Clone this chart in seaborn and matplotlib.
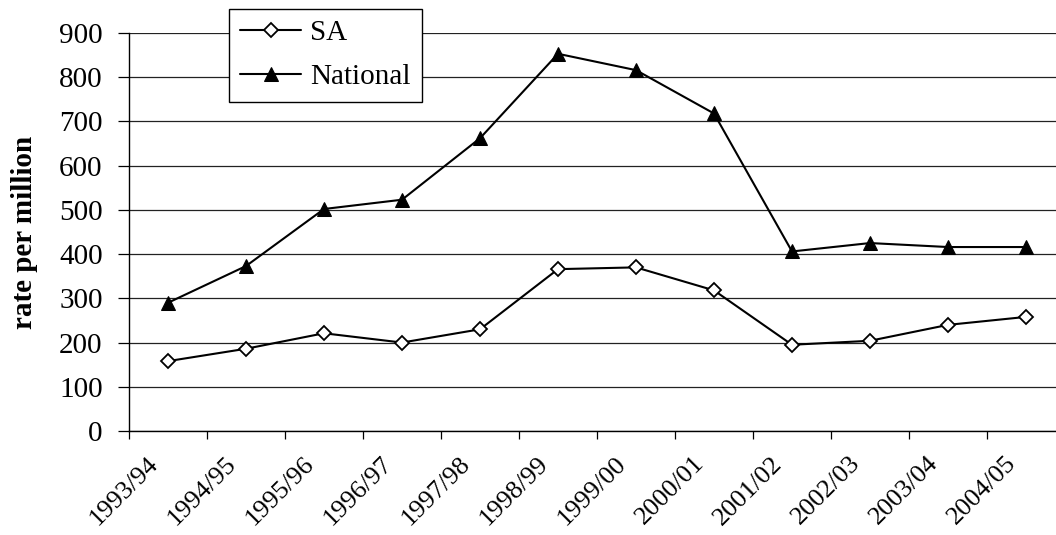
import matplotlib
matplotlib.use("Agg")
import matplotlib.pyplot as plt
import matplotlib.transforms as mtransforms
import seaborn as sns
import pandas as pd
import numpy as np

periods = ["1993/94", "1994/95", "1995/96", "1996/97", "1997/98", "1998/99",
           "1999/00", "2000/01", "2001/02", "2002/03", "2003/04", "2004/05"]
sa_values = [158, 186, 221, 200, 230, 366, 370, 318, 195, 204, 240, 258]
national_values = [290, 373, 502, 523, 662, 853, 816, 718, 406, 425, 416, 416]
y_ticks = [0, 100, 200, 300, 400, 500, 600, 700, 800, 900]
y_label = "rate per million"

sa_df = pd.DataFrame({"period": periods, "rate": sa_values, "series": "SA"})
nat_df = pd.DataFrame({"period": periods, "rate": national_values, "series": "National"})

sns.set_theme(style="white")
plt.rcParams["font.family"] = ["Liberation Serif", "DejaVu Serif"]

FS = 21

fig = plt.figure(figsize=(10.56, 5.35), dpi=100)
ax = fig.add_axes([129 / 1056, 1 - 431 / 535, 936 / 1056, 398 / 535])

sns.lineplot(data=sa_df, x="period", y="rate", ax=ax, color="black",
             marker="D", markersize=7.2, markerfacecolor="white",
             markeredgecolor="black", markeredgewidth=1.3, linewidth=1.5,
             label="SA", zorder=3)
sns.lineplot(data=nat_df, x="period", y="rate", ax=ax, color="black",
             marker="^", markersize=10.5, markerfacecolor="black",
             markeredgecolor="black", linewidth=1.5, label="National", zorder=3)

ax.set_xlim(-0.5, len(periods) - 0.5)
ax.set_ylim(0, 900)
ax.set_yticks(y_ticks)
ax.set_yticklabels([str(v) for v in y_ticks])
ax.set_axisbelow(True)
ax.grid(axis="y", color="#222222", linewidth=0.9)
ax.grid(axis="x", visible=False)

for s in ["top", "right"]:
    ax.spines[s].set_visible(False)
for s in ["left", "bottom"]:
    ax.spines[s].set_visible(True)
    ax.spines[s].set_color("black")
    ax.spines[s].set_linewidth(1.0)

ax.tick_params(axis="y", which="major", left=True, length=8, width=0.9,
               color="black", pad=11, labelsize=FS, labelcolor="black")
ax.set_xticks(range(len(periods)))
ax.set_xticklabels(periods)
ax.set_xticks(np.arange(-0.5, len(periods) - 0.4, 1.0), minor=True)
ax.tick_params(axis="x", which="major", bottom=False, length=0, pad=21,
               labelsize=19, labelcolor="black")
ax.tick_params(axis="x", which="minor", bottom=True, length=5.5, width=0.9,
               color="black", direction="out")

offset = mtransforms.ScaledTranslation(-13 / 100, 0, fig.dpi_scale_trans)
for lbl in ax.get_xticklabels():
    lbl.set_rotation(45)
    lbl.set_ha("right")
    lbl.set_va("center")
    lbl.set_rotation_mode("anchor")
    lbl.set_transform(lbl.get_transform() + offset)

ax.set_xlabel("")
ax.set_ylabel(y_label, fontsize=FS, fontweight="bold", color="black")
ax.yaxis.set_label_coords(-0.097, 0.5)

leg = ax.legend(loc="upper left", bbox_to_anchor=(229 / 1056, 1 - 9 / 535),
                bbox_transform=fig.transFigure, borderaxespad=0,
                frameon=True, fancybox=False, framealpha=1, edgecolor="black",
                fontsize=FS, handlelength=2.1, handletextpad=0.3,
                labelspacing=0.6, borderpad=0.38)
leg.get_frame().set_linewidth(1.0)
for t in leg.get_texts():
    t.set_color("black")

fig.savefig("out.png", dpi=100)
